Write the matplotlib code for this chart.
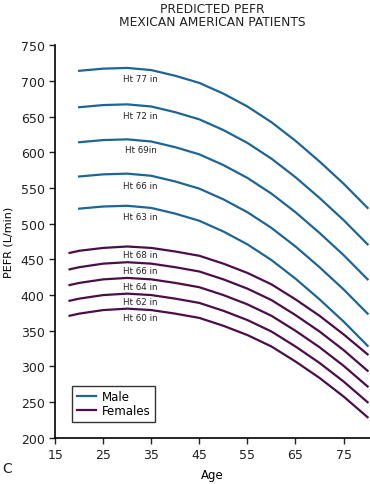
import matplotlib.pyplot as plt

# ages (years)
male_age = [20, 25, 30, 35, 40, 45, 50, 55, 60, 65, 70, 75, 80]
female_age = [18, 20, 25, 30, 35, 40, 45, 50, 55, 60, 65, 70, 75, 80]

# predicted PEFR (L/min), males
male_77 = [714, 717, 718, 715, 707, 697, 682, 664, 642, 616, 587, 556, 522]
male_72 = [663, 666, 667, 664, 656, 646, 631, 613, 591, 565, 536, 505, 471]
male_69 = [614, 617, 618, 615, 607, 597, 582, 564, 542, 516, 487, 456, 422]
male_66 = [566, 569, 570, 567, 559, 549, 534, 516, 494, 468, 439, 408, 374]
male_63 = [521, 524, 525, 522, 514, 504, 489, 471, 449, 423, 394, 363, 329]

# females
female_68 = [459, 462, 466, 468, 466, 461, 455, 444, 431, 415, 394, 371, 345, 317]
female_66 = [436, 439, 444, 446, 444, 439, 433, 422, 409, 393, 372, 349, 323, 294]
female_64 = [414, 417, 422, 424, 422, 417, 411, 400, 387, 371, 350, 327, 301, 272]
female_62 = [392, 395, 400, 402, 400, 395, 389, 378, 365, 349, 328, 305, 279, 250]
female_60 = [371, 374, 379, 381, 379, 374, 368, 357, 344, 328, 307, 284, 258, 229]

male_series = [male_77, male_72, male_69, male_66, male_63]
male_labels = ['Ht 77 in', 'Ht 72 in', 'Ht 69in', 'Ht 66 in', 'Ht 63 in']
male_label_y = [703, 651, 604, 554, 510]

female_series = [female_68, female_66, female_64, female_62, female_60]
female_labels = ['Ht 68 in', 'Ht 66 in', 'Ht 64 in', 'Ht 62 in', 'Ht 60 in']
female_label_y = [457, 434, 412, 391, 369]

label_age = 32.8

blue = '#1d6594'
purple = '#4b0e48'

fig = plt.figure(figsize=(3.7, 4.85), dpi=100)
ax = fig.add_axes([0.149, 0.095, 0.851, 0.81])

for i, s in enumerate(male_series):
    ax.plot(male_age, s, color=blue, lw=1.6, label='Male' if i == 0 else None)
    ax.text(label_age, male_label_y[i], male_labels[i], fontsize=6.3,
            ha='center', va='center', color='#222222')

for i, s in enumerate(female_series):
    ax.plot(female_age, s, color=purple, lw=1.6, label='Females' if i == 0 else None)
    ax.text(label_age, female_label_y[i], female_labels[i], fontsize=6.3,
            ha='center', va='center', color='#222222')

ax.set_xlim(15, 80.5)
ax.set_ylim(200, 750)
ax.set_xticks([15, 25, 35, 45, 55, 65, 75])
ax.set_yticks(range(200, 751, 50))
ax.tick_params(labelsize=9, length=4, width=1, direction='out', colors='#222222')
ax.spines['top'].set_visible(False)
ax.spines['right'].set_visible(False)
ax.spines['left'].set_linewidth(1.2)
ax.spines['bottom'].set_linewidth(1.2)

ax.set_xlabel('Age', fontsize=8.5, labelpad=5)
ax.set_ylabel('PEFR (L/min)', fontsize=8, labelpad=5)

leg = ax.legend(loc='lower left', bbox_to_anchor=(0.054, 0.04), fontsize=8.5,
                frameon=True, fancybox=False, edgecolor='black', handlelength=1.6,
                borderpad=0.4, labelspacing=0.1, handletextpad=0.5, borderaxespad=0)
leg.get_frame().set_linewidth(1.0)

fig.text(0.573, 0.993, 'PREDICTED PEFR\nMEXICAN AMERICAN PATIENTS', ha='center', va='top',
         fontsize=8.8, linespacing=1.0, color='#222222')
fig.text(0.005, 0.018, 'C', fontsize=10, ha='left', va='bottom', color='#222222')

fig.savefig('out.png', dpi=100)
